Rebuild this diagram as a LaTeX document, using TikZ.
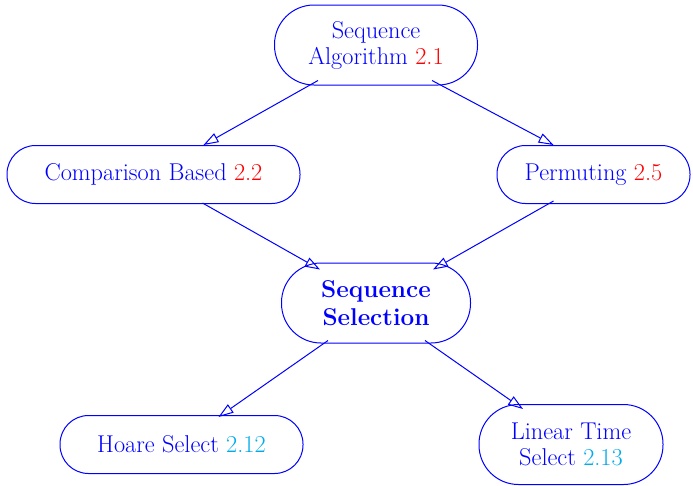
\documentclass[tikz,border=0pt]{standalone}
\usetikzlibrary{arrows.meta,calc}
\definecolor{refred}{RGB}{255,0,0}
\definecolor{refcyan}{RGB}{0,170,235}
\tikzset{
  topic/.style={rectangle, draw=blue, line width=1pt, text=blue,
    align=center, inner sep=0pt,
    font=\fontsize{24.3}{26}\selectfont},
  tall/.style={minimum height=80pt, rounded corners=39.5pt},
  flat/.style={minimum height=58pt, rounded corners=28.5pt},
  link/.style={draw=blue, line width=1pt,
    -{Triangle[open,length=15pt,width=10pt,line width=1pt]}},
}
\begin{document}
\begin{tikzpicture}[x=1pt,y=-1pt]
  \useasboundingbox (0,0) rectangle (693,485);
  \node[topic, tall, minimum width=203pt] (sa) at (376,45)
    {Sequence\\Algorithm \textcolor{refred}{2.1}};
  \node[topic, flat, minimum width=293pt] (cb) at (153.5,174.5)
    {Comparison Based \textcolor{refred}{2.2}};
  \node[topic, flat, minimum width=193pt] (pm) at (593.5,174.5)
    {Permuting \textcolor{refred}{2.5}};
  \node[topic, tall, minimum width=189pt, font=\fontsize{24.3}{28.5}\selectfont\bfseries] (ss) at (376,303)
    {Sequence\\Selection};
  \node[topic, flat, minimum width=243pt] (hs) at (181.5,444.5)
    {Hoare Select \textcolor{refcyan}{2.12}};
  \node[topic, tall, minimum width=184pt] (lt) at (571,444.5)
    {Linear Time\\Select \textcolor{refcyan}{2.13}};

  \draw[link] ($(sa.south)+(-58,-5)$) -- ($(cb.north)+(50,0)$);
  \draw[link] ($(sa.south)+(56,-5)$) -- ($(pm.north)+(-40,0)$);
  \draw[link] ($(cb.south)+(49,-1)$) -- ($(ss.north)+(-56,7)$);
  \draw[link] ($(pm.south)+(-40,-3)$) -- ($(ss.north)+(57,7)$);
  \draw[link] ($(ss.south)+(-48,-3)$) -- ($(hs.north)+(37,2)$);
  \draw[link] ($(ss.south)+(49,-3)$) -- ($(lt.north)+(-48,5)$);
\end{tikzpicture}
\end{document}
